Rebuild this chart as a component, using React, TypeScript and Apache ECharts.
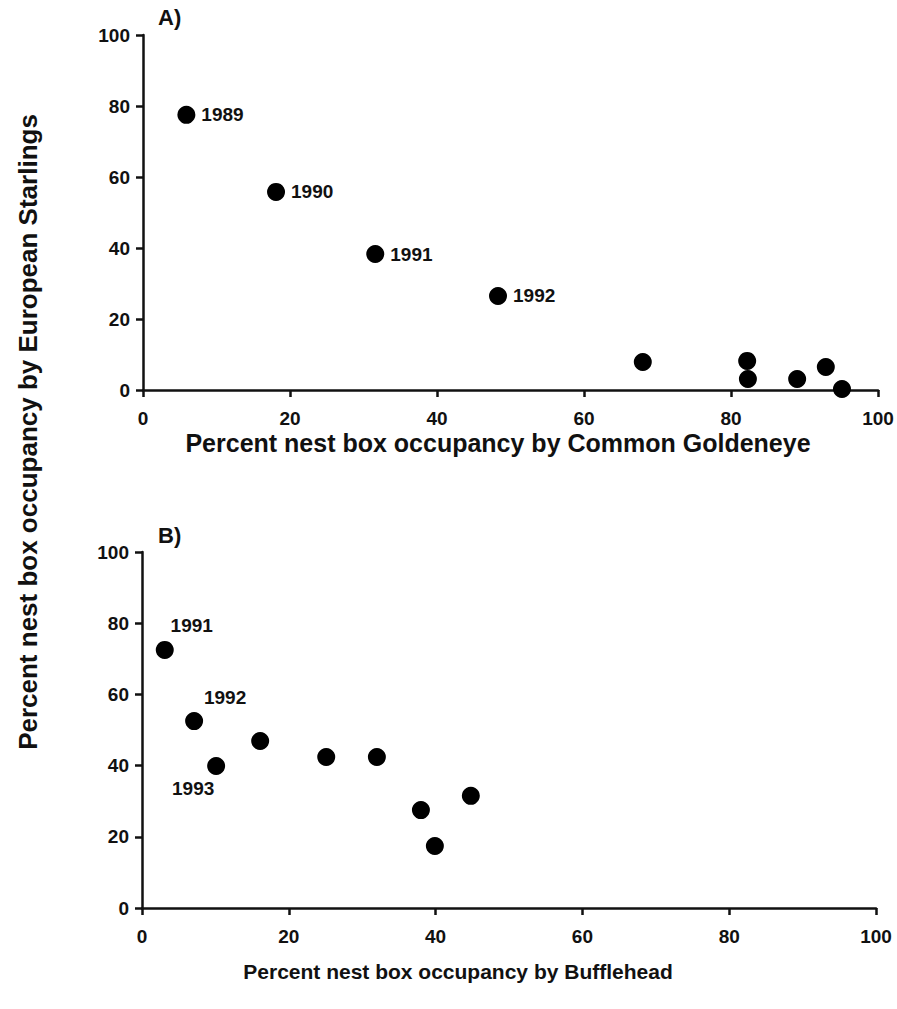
import React, { useEffect, useRef } from "react";
import * as echarts from "echarts";

const yearsA = ["1989", "1990", "1991", "1992", "", "", "", "", "", ""];
const goldeneyeX = [5.9, 18.1, 31.6, 48.3, 68.0, 82.2, 82.3, 89.0, 92.9, 95.1];
const starlingsA = [77.5, 55.8, 38.3, 26.5, 7.9, 8.2, 3.1, 3.1, 6.5, 0.3];

const yearsB = ["1991", "1992", "1993", "", "", "", "", "", ""];
const buffleheadX = [3.1, 7.1, 10.1, 16.1, 25.1, 32.0, 38.0, 39.9, 44.8];
const starlingsB = [72.5, 52.5, 39.9, 46.9, 42.4, 42.4, 27.5, 17.4, 31.5];

const tickLabels = ["0", "20", "40", "60", "80", "100"];

const FONT = "Liberation Sans";

export default function App() {
  const ref = useRef<HTMLDivElement>(null);
  useEffect(() => {
    const chart = echarts.init(ref.current!, null, { renderer: "svg" });
    const axisCommon = {
      type: "value" as const,
      min: 0,
      max: 100,
      interval: 20,
      splitLine: { show: false },
      axisLine: { show: true, onZero: false, lineStyle: { color: "#111", width: 2.5 } },
      axisTick: { show: true, length: 7, lineStyle: { color: "#111", width: 2.5 } },
      axisLabel: {
        color: "#111",
        fontFamily: FONT,
        fontWeight: "bold" as const,
        fontSize: 19,
        formatter: (v: number) => tickLabels[Math.round(v / 20)],
      },
    };
    const dataA = goldeneyeX.map((x, i) => ({
      value: [x, starlingsA[i]],
      name: yearsA[i],
      label: {
        show: yearsA[i] !== "",
        position: "right",
        distance: 6,
      },
    }));
    const bOffsets: Record<number, number[]> = {
      0: [27, -24],
      1: [31, -24],
      2: [-23, 23],
    };
    const dataB = buffleheadX.map((x, i) => ({
      value: [x, starlingsB[i]],
      name: yearsB[i],
      label: {
        show: yearsB[i] !== "",
        position: "inside",
        offset: bOffsets[i] || [0, 0],
      },
    }));
    const labelStyle = {
      color: "#111",
      fontFamily: FONT,
      fontWeight: "bold" as const,
      fontSize: 19,
      formatter: (p: any) => p.name,
    };
    const itemStyle = { color: "#000", opacity: 1 };
    chart.setOption({
      animation: false,
      backgroundColor: "#fff",
      grid: [
        { left: 143, top: 35, width: 735, height: 355 },
        { left: 142, top: 552, width: 734, height: 356 },
      ],
      xAxis: [
        { ...axisCommon, gridIndex: 0, axisLabel: { ...axisCommon.axisLabel, margin: 19 } },
        { ...axisCommon, gridIndex: 1, axisLabel: { ...axisCommon.axisLabel, margin: 19 } },
      ],
      yAxis: [
        { ...axisCommon, gridIndex: 0, axisLabel: { ...axisCommon.axisLabel, margin: 13 } },
        { ...axisCommon, gridIndex: 1, axisLabel: { ...axisCommon.axisLabel, margin: 13 } },
      ],
      series: [
        {
          type: "scatter",
          xAxisIndex: 0,
          yAxisIndex: 0,
          symbolSize: 18,
          itemStyle,
          label: labelStyle,
          data: dataA,
        },
        {
          type: "scatter",
          xAxisIndex: 1,
          yAxisIndex: 1,
          symbolSize: 18,
          itemStyle,
          label: labelStyle,
          data: dataB,
        },
      ],
      graphic: [
        {
          type: "text",
          left: 158,
          top: 6,
          style: { text: "A)", font: `bold 22px ${FONT}`, fill: "#111" },
        },
        {
          type: "text",
          left: 158,
          top: 524,
          style: { text: "B)", font: `bold 22px ${FONT}`, fill: "#111" },
        },
        {
          type: "text",
          x: 498,
          y: 443,
          style: {
            text: "Percent nest box occupancy by Common Goldeneye",
            font: `bold 25px ${FONT}`,
            fill: "#111",
            align: "center",
            verticalAlign: "middle",
          },
        },
        {
          type: "text",
          x: 458,
          y: 971,
          style: {
            text: "Percent nest box occupancy by Bufflehead",
            font: `bold 21px ${FONT}`,
            fill: "#111",
            align: "center",
            verticalAlign: "middle",
          },
        },
        {
          type: "text",
          x: 28,
          y: 432,
          rotation: Math.PI / 2,
          style: {
            text: "Percent nest box occupancy by European Starlings",
            font: `bold 26px ${FONT}`,
            fill: "#111",
            align: "center",
            verticalAlign: "middle",
          },
        },
      ],
    });
    return () => chart.dispose();
  }, []);
  return (
    <div
      ref={ref}
      style={{ position: "absolute", left: 0, top: 0, width: 897, height: 1009 }}
    />
  );
}
